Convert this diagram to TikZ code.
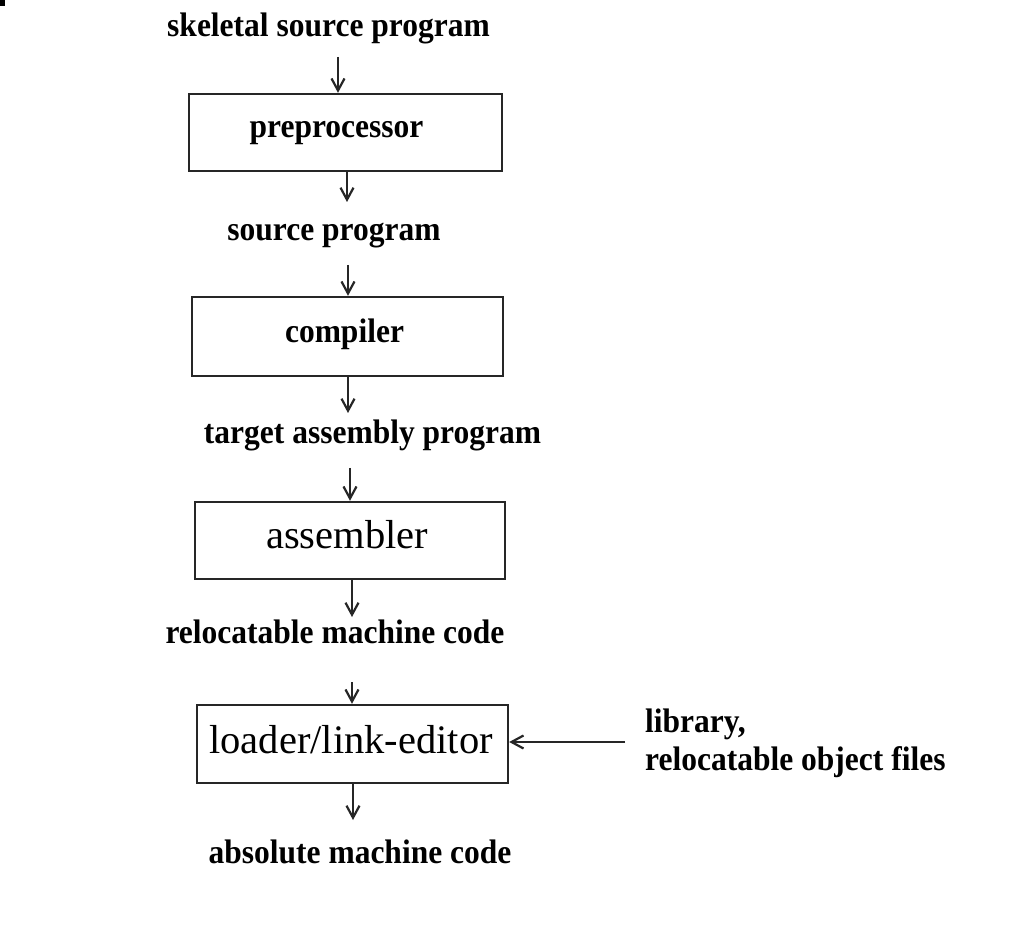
\documentclass[tikz,border=0pt]{standalone}
\usepackage{fontspec}
\setmainfont{Liberation Serif}
\usetikzlibrary{arrows.meta}
\begin{document}
\begin{tikzpicture}[x=1pt,y=-1pt,
  box/.style={draw=black!85, line width=2.4pt, rectangle, inner sep=0pt},
  lab/.style={font=\fontsize{31.5}{36}\selectfont\bfseries, inner sep=0pt, anchor=base, yscale=1.08},
  big/.style={font=\fontsize{40.5}{46}\selectfont, inner sep=0pt, anchor=base},
  side/.style={font=\fontsize{31.5}{36}\selectfont\bfseries, inner sep=0pt, anchor=base west, yscale=1.08},
  arr/.style={draw=black!85, line width=2.4pt, -{Straight Barb[length=12pt,width=13pt,line width=2.2pt]}}]
\useasboundingbox (0,0) rectangle (1013,925);
\fill[white] (0,0) rectangle (1013,925);
\fill[black] (0,0) rectangle (5,6);
% labels
\node[lab] (skel) at (328.5,37) {skeletal source program};
\node[lab] (src) at (334,241) {source program};
\node[lab] (tap) at (372.5,443) {target assembly program};
\node[lab] (rmc) at (335,643) {relocatable machine code};
\node[lab] (amc) at (360,863) {absolute machine code};
\node[side] (lib) at (645,732) {library,};
\node[side] (rof) at (645,770) {relocatable object files};
% boxes
\node[box, minimum width=313pt, minimum height=77pt] (pre) at (345.5,132.5) {};
\node[lab] (pret) at (336.5,138) {preprocessor};
\node[box, minimum width=311pt, minimum height=79pt] (comp) at (347.5,336.5) {};
\node[lab] (compt) at (344.5,343) {compiler};
\node[box, minimum width=310pt, minimum height=77pt] (asm) at (350,540.5) {};
\node[big] (asmt) at (347,548) {assembler};
\node[box, minimum width=311pt, minimum height=78pt] (load) at (352.5,744) {};
\node[big] (loadt) at (351,753) {loader/link-editor};
% arrow coordinates
\coordinate (c1) at (338,57);
\coordinate (c2) at (347,202);
\coordinate (c3) at (348,265);
\coordinate (c4) at (348,413);
\coordinate (c5) at (350,468);
\coordinate (c6) at (352,617);
\coordinate (c7) at (352,682);
\coordinate (c8) at (353,820);
\coordinate (c9) at (625,742);
% arrows
\draw[arr] (c1) -- (c1 |- pre.north);
\draw[arr] (c2 |- pre.south) -- (c2);
\draw[arr] (c3) -- (c3 |- comp.north);
\draw[arr] (c4 |- comp.south) -- (c4);
\draw[arr] (c5) -- (c5 |- asm.north);
\draw[arr] (c6 |- asm.south) -- (c6);
\draw[arr] (c7) -- (c7 |- load.north);
\draw[arr] (c8 |- load.south) -- (c8);
\draw[arr] (c9) -- (c9 -| load.east);
\end{tikzpicture}
\end{document}
